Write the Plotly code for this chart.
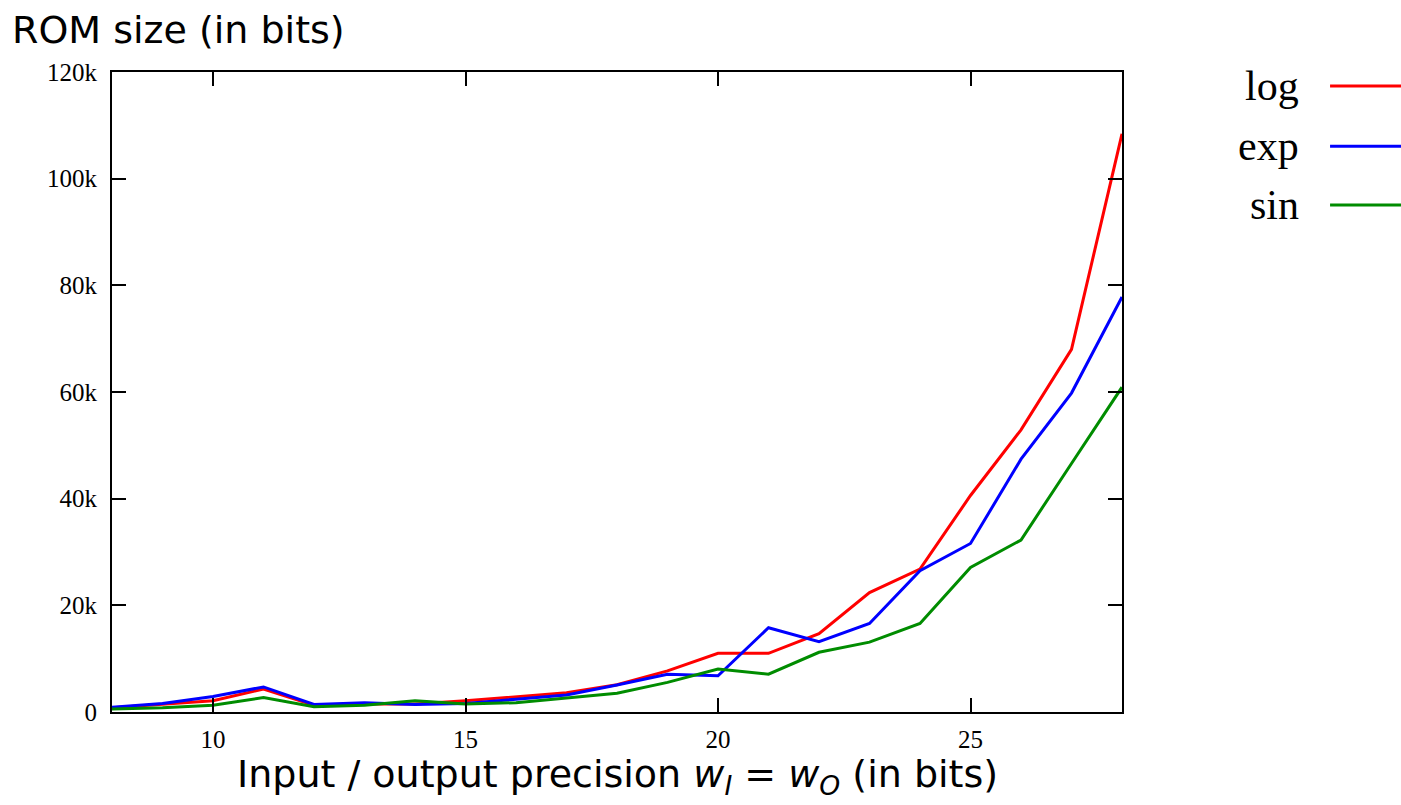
import plotly.graph_objects as go

x_bits = list(range(8, 29))
log_rom = [800, 1500, 2100, 4300, 1250, 1500, 1500, 2100, 2800, 3600, 5100, 7700,
           11000, 11000, 14700, 22400, 26800, 40600, 52900, 68000, 108400]
exp_rom = [900, 1600, 2900, 4700, 1400, 1750, 1400, 1600, 2400, 3200, 5060, 7060,
           6800, 15800, 13200, 16600, 26500, 31600, 47400, 59800, 77800]
sin_rom = [560, 800, 1250, 2700, 1000, 1250, 2100, 1500, 1750, 2560, 3500, 5560,
           8060, 7100, 11200, 13100, 16600, 27100, 32250, 46600, 60900]

series_names = ["log", "exp", "sin"]
series_vals = [log_rom, exp_rom, sin_rom]
series_colors = ["#ff0000", "#0000ff", "#008c00"]

y_tickvals = [0, 20000, 40000, 60000, 80000, 100000, 120000]
y_ticktext = ["0", "20k", "40k", "60k", "80k", "100k", "120k"]
x_tickvals = [10, 15, 20, 25]

fig = go.Figure()
for name, vals, col in zip(series_names, series_vals, series_colors):
    fig.add_trace(go.Scatter(x=x_bits, y=vals, mode="lines", name=name,
                             line=dict(color=col, width=3), showlegend=False))

serif = "Liberation Serif, DejaVu Serif, serif"
sans = "DejaVu Sans, Liberation Sans, sans-serif"

axis_common = dict(showline=True, linecolor="black", linewidth=2, mirror="allticks",
                   ticks="inside", ticklen=14, tickwidth=1.5, tickcolor="black",
                   showgrid=False, zeroline=False,
                   tickfont=dict(family=serif, size=25, color="black"))

fig.update_layout(
    width=1401, height=805,
    margin=dict(l=112, r=279, t=72, b=93),
    paper_bgcolor="white", plot_bgcolor="white",
    xaxis=dict(range=[8, 28], tickvals=x_tickvals, ticklabelstandoff=4, **axis_common),
    yaxis=dict(range=[0, 120000], tickvals=y_tickvals, ticktext=y_ticktext,
               ticklabelstandoff=8, **axis_common),
)

annotations = [
    dict(text="ROM size (in bits)", xref="paper", yref="paper", x=-0.101, y=1.066,
         xanchor="left", yanchor="middle", showarrow=False,
         font=dict(family=sans, size=38, color="black")),
    dict(text="Input / output precision <i>w</i><sub><i>I</i></sub> = <i>w</i><sub><i>O</i></sub> (in bits)",
         xref="paper", yref="paper", x=0.5, y=-0.1, xanchor="center", yanchor="middle",
         showarrow=False, font=dict(family=sans, size=38, color="black")),
]
leg_y = [0.978, 0.884, 0.792]
shapes = []
for name, col, ly in zip(series_names, series_colors, leg_y):
    annotations.append(dict(text=name, xref="paper", yref="paper", x=1.177, y=ly,
                            xanchor="right", yanchor="middle", showarrow=False,
                            font=dict(family=serif, size=42, color="black")))
    shapes.append(dict(type="line", xref="paper", yref="paper", x0=1.206, x1=1.28,
                       y0=ly, y1=ly, line=dict(color=col, width=3)))
fig.update_layout(annotations=annotations, shapes=shapes)

fig.write_html("out.html", config={"displayModeBar": False},
               post_script="document.body.style.margin='0';")
